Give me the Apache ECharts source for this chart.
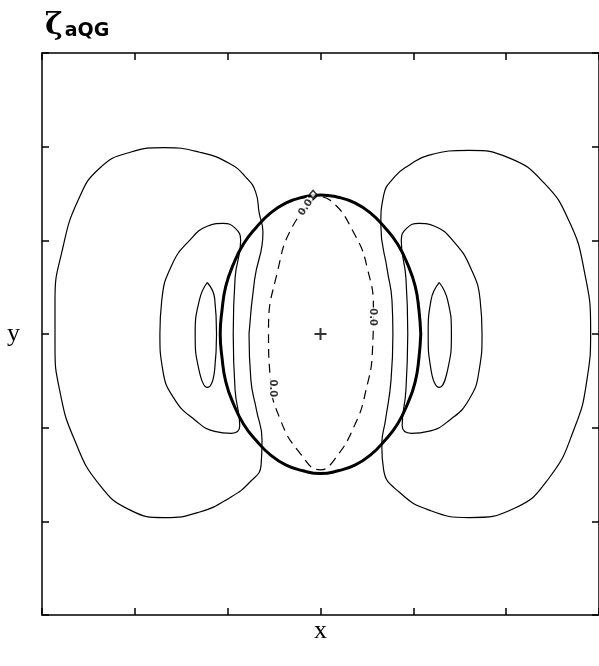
<!DOCTYPE html>
<html>
<head>
<meta charset="utf-8">
<script src="https://cdn.jsdelivr.net/npm/echarts@6/dist/echarts.min.js"></script>
<style>
  html, body { margin: 0; padding: 0; background: #fff; }
  #chart { width: 599px; height: 666px; }
</style>
</head>
<body>
<div id="chart"></div>
<script>
// Contour map of the vorticity field around an elliptical patch (x, y in domain units)

// Boundary of the elliptical patch (thick line)
const patchBoundary = [
  [1.08, 0], [1.06, 0.26], [1.02, 0.51], [0.94, 0.74], [0.83, 0.96], [0.69, 1.14],
  [0.54, 1.29], [0.37, 1.40], [0.19, 1.46], [0, 1.485],
  [-0.19, 1.46], [-0.37, 1.40], [-0.54, 1.29], [-0.69, 1.14], [-0.83, 0.96], [-0.94, 0.74],
  [-1.02, 0.51], [-1.06, 0.26], [-1.08, 0],
  [-1.06, -0.26], [-1.02, -0.51], [-0.94, -0.74], [-0.83, -0.96], [-0.69, -1.14],
  [-0.54, -1.29], [-0.37, -1.40], [-0.19, -1.46], [0, -1.49],
  [0.19, -1.46], [0.37, -1.40], [0.54, -1.29], [0.69, -1.14], [0.83, -0.96], [0.94, -0.74],
  [1.02, -0.51], [1.06, -0.26], [1.08, 0]
];

// Small marker sitting on the top of the patch boundary
const boundaryMark = [[-0.08, 1.49]];

// Zero contour (dashed)
const zeroContour = [
  [-0.04, 1.47], [-0.30, 1.15], [-0.46, 0.68], [-0.56, 0.04], [-0.54, -0.49],
  [-0.43, -0.92], [-0.23, -1.26], [0, -1.45],
  [0.15, -1.34], [0.37, -0.97], [0.49, -0.6], [0.56, -0.17], [0.57, 0.26],
  [0.51, 0.68], [0.37, 1.06], [0.10, 1.43], [-0.04, 1.47]
];

// Outer contour, left lobe (its inner side runs through the patch)
const outerLeft = [
  [-0.77, 0], [-0.71, 0.58], [-0.62, 1.09], [-0.66, 1.29], [-0.70, 1.52], [-0.80, 1.67],
  [-0.98, 1.82], [-1.30, 1.94], [-1.68, 1.99], [-2.05, 1.94], [-2.38, 1.77], [-2.61, 1.43],
  [-2.78, 0.90], [-2.86, 0.36], [-2.86, -0.12], [-2.81, -0.60], [-2.65, -1.13],
  [-2.38, -1.61], [-2.05, -1.88], [-1.68, -1.96], [-1.30, -1.90], [-0.98, -1.75],
  [-0.76, -1.58], [-0.64, -1.40], [-0.63, -1.13], [-0.69, -0.81], [-0.75, -0.49], [-0.77, 0]
];

// Outer contour, right lobe
const outerRight = [
  [0.78, 0], [0.77, 0.36], [0.72, 0.68], [0.65, 1.16], [0.68, 1.48], [0.80, 1.68],
  [0.95, 1.80], [1.17, 1.91], [1.60, 1.96], [2.03, 1.88], [2.41, 1.61], [2.68, 1.20],
  [2.84, 0.68], [2.91, 0.04], [2.87, -0.49], [2.73, -1.02], [2.46, -1.54], [2.09, -1.86],
  [1.60, -1.96], [1.17, -1.88], [0.85, -1.69], [0.68, -1.45], [0.66, -1.18],
  [0.70, -0.92], [0.76, -0.49], [0.78, 0]
];

// Middle contour, left lobe
const middleLeft = [
  [-0.94, 0], [-0.92, 0.6], [-0.86, 1.0], [-0.92, 1.13], [-1.05, 1.18], [-1.22, 1.15],
  [-1.41, 1.0], [-1.60, 0.74], [-1.71, 0.36], [-1.73, 0], [-1.70, -0.38], [-1.57, -0.70],
  [-1.35, -0.92], [-1.14, -1.04], [-0.96, -1.06], [-0.87, -0.98], [-0.92, -0.6], [-0.94, 0]
];

// Middle contour, right lobe
const middleRight = [
  [0.94, 0], [0.92, 0.6], [0.87, 1.0], [0.93, 1.13], [1.06, 1.18], [1.23, 1.15],
  [1.44, 0.98], [1.62, 0.70], [1.72, 0.36], [1.74, 0], [1.71, -0.38], [1.60, -0.70],
  [1.39, -0.92], [1.16, -1.04], [0.98, -1.06], [0.88, -0.98], [0.92, -0.6], [0.94, 0]
];

// Inner contour loops
const innerLeft = [
  [-1.22, 0.55], [-1.30, 0.38], [-1.35, 0], [-1.31, -0.38], [-1.22, -0.57],
  [-1.14, -0.38], [-1.12, 0], [-1.14, 0.38], [-1.22, 0.55]
];
const innerRight = [
  [1.28, 0.55], [1.37, 0.36], [1.41, 0], [1.37, -0.38], [1.28, -0.57],
  [1.19, -0.38], [1.16, 0], [1.19, 0.36], [1.28, 0.55]
];

// Contour labels along the zero contour: [x, y, rotation]
const zeroLabels = [
  [-0.16, 1.35, 55],
  [0.56, 0.18, -90],
  [-0.52, -0.58, -90]
];
const zeroLabelText = '0.0';

// Centre of the patch
const centre = [[0, 0]];

const thin = { color: '#000', width: 1.2 };

function contour(data, style, smooth) {
  return {
    type: 'line', data: data, symbol: 'none', smooth: smooth === undefined ? 0.5 : smooth,
    lineStyle: style, silent: true, animation: false, z: 3
  };
}

const chart = echarts.init(document.getElementById('chart'), null, { renderer: 'canvas' });

const axisCommon = {
  type: 'value', min: -3, max: 3, interval: 1,
  axisLine: { show: true, onZero: false, lineStyle: { color: '#000', width: 1.5 } },
  axisTick: { show: true, inside: true, length: 7, lineStyle: { color: '#000', width: 1.5 } },
  axisLabel: { show: false },
  splitLine: { show: false }
};

chart.setOption({
  animation: false,
  backgroundColor: '#fff',
  title: {
    text: '{z|ζ}{s|aQG}',
    left: 40, top: 2,
    textStyle: {
      rich: {
        z: { fontFamily: 'DejaVu Serif', fontSize: 30, color: '#000', verticalAlign: 'bottom' },
        s: { fontFamily: 'DejaVu Sans', fontWeight: 'bold', fontSize: 19, color: '#000',
             verticalAlign: 'bottom', padding: [15, 0, 0, 2] }
      }
    }
  },
  grid: { left: 42, top: 53, width: 558, height: 562, containLabel: false },
  xAxis: [
    Object.assign({}, axisCommon, {
      position: 'bottom', name: 'x', nameLocation: 'middle', nameGap: 3,
      nameTextStyle: { fontFamily: 'Liberation Serif', fontSize: 26, color: '#000' }
    }),
    Object.assign({}, axisCommon, { position: 'top' })
  ],
  yAxis: [
    Object.assign({}, axisCommon, {
      position: 'left', name: 'y', nameLocation: 'middle', nameGap: 22, nameRotate: 0,
      nameTextStyle: { fontFamily: 'Liberation Serif', fontSize: 26, color: '#000' }
    }),
    Object.assign({}, axisCommon, { position: 'right' })
  ],
  series: [
    contour(patchBoundary, { color: '#000', width: 3 }),
    contour(zeroContour, { color: '#000', width: 1.2, type: [9, 6] }),
    contour(outerLeft, thin),
    contour(outerRight, thin),
    contour(middleLeft, thin),
    contour(middleRight, thin),
    contour(innerLeft, thin),
    contour(innerRight, thin),
    {
      type: 'scatter', data: boundaryMark, symbol: 'diamond', symbolSize: [7, 8],
      itemStyle: { color: '#fff', borderColor: '#000', borderWidth: 1.5 }, silent: true, z: 4
    },
    {
      type: 'scatter', data: centre, symbol: 'path://M5,0H7V5H12V7H7V12H5V7H0V5H5Z',
      symbolSize: 12, itemStyle: { color: '#000' }, silent: true, z: 4
    },
    {
      type: 'scatter',
      data: zeroLabels.map(function (d) { return [d[0], d[1]]; }),
      symbolSize: 0, silent: true, z: 5,
      label: {
        show: true, position: 'inside', formatter: zeroLabelText,
        fontFamily: 'DejaVu Sans', fontSize: 10, fontWeight: 'bold', color: '#000',
        backgroundColor: '#fff', padding: [0, 1]
      },
      labelLayout: function (params) {
        return { rotate: zeroLabels[params.dataIndex][2] };
      }
    }
  ]
});
</script>
</body>
</html>
